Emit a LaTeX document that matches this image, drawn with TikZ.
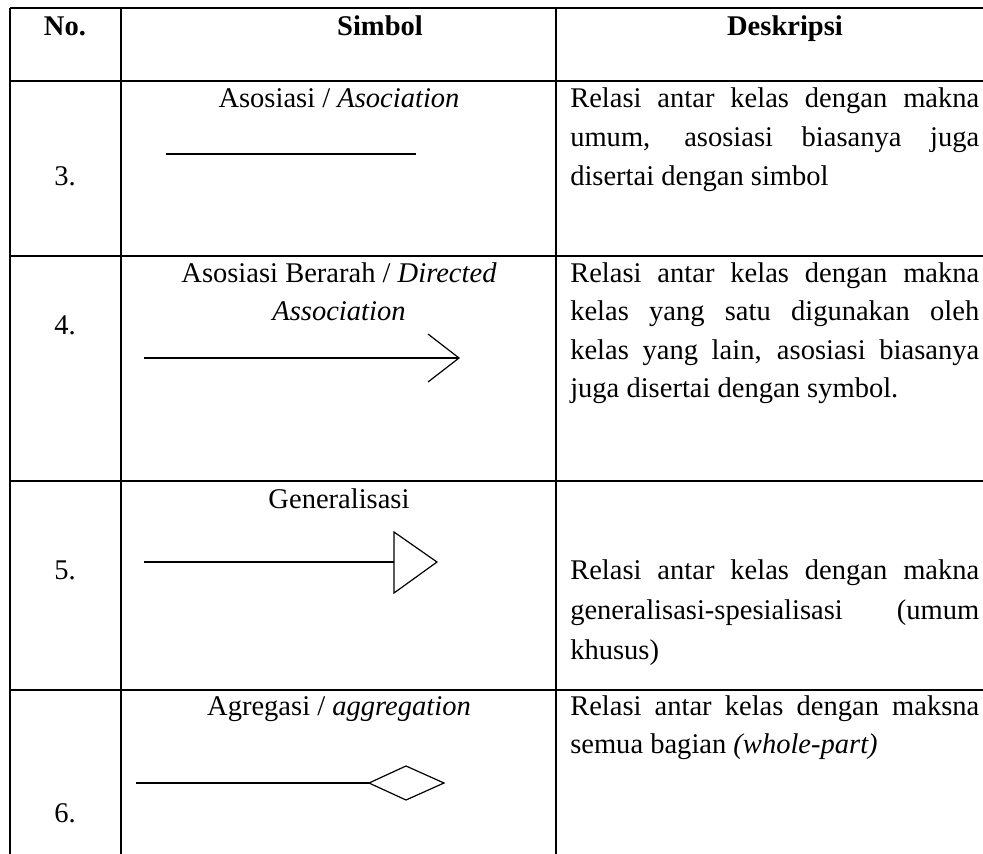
\documentclass[tikz,border=0pt]{standalone}
\usepackage{fontspec}
\setmainfont{Liberation Serif}
\newcommand{\jline}[1]{\makebox[306.75pt][s]{#1}}
\begin{document}
\begin{tikzpicture}[x=0.75pt,y=-0.75pt,
  font=\fontsize{21.4}{25}\selectfont,
  grid/.style={line width=2pt},
  sym/.style={line width=1.3pt},
  head/.style={line width=0.9pt, line join=miter},
  ctext/.style={inner sep=0pt, anchor=base},
  dtext/.style={inner sep=0pt, anchor=base west}]
\useasboundingbox (0,0) rectangle (983,854);
% table grid
\draw[grid] (10,8) -- (983,8);
\draw[grid] (10,81) -- (983,81);
\draw[grid] (10,256) -- (983,256);
\draw[grid] (10,481) -- (983,481);
\draw[grid] (10,690) -- (983,690);
\draw[grid] (10,8) -- (10,854);
\draw[grid] (121,8) -- (121,854);
\draw[grid] (556,8) -- (556,854);
% header
\node[ctext] (hno) at (65,35) {\textbf{No.}};
\node[ctext] (hsim) at (380,35) {\textbf{Simbol}};
\node[ctext] (hdes) at (785,35) {\textbf{Deskripsi}};
% numbers
\node[ctext] (n3) at (65,185) {3.};
\node[ctext] (n4) at (65,334) {4.};
\node[ctext] (n5) at (65,579) {5.};
\node[ctext] (n6) at (65,822) {6.};
% symbol labels
\node[ctext] (l3) at (339,107) {Asosiasi / \textit{Asociation}};
\node[ctext] (l4a) at (339,282) {Asosiasi Berarah / \textit{Directed}};
\node[ctext] (l4b) at (339,320.5) {\textit{Association}};
\node[ctext] (l5) at (339,508) {Generalisasi};
\node[ctext] (l6) at (339,715) {Agregasi / \textit{aggregation}};
% descriptions
\node[dtext] (d3a) at (570,107) {\jline{Relasi antar kelas dengan makna}};
\node[dtext] (d3b) at (570,146) {\jline{umum, asosiasi biasanya juga}};
\node[dtext] (d3c) at (570,185) {disertai dengan simbol};
\node[dtext] (d4a) at (570,282) {\jline{Relasi antar kelas dengan makna}};
\node[dtext] (d4b) at (570,320.5) {\jline{kelas yang satu digunakan oleh}};
\node[dtext] (d4c) at (570,359) {\jline{kelas yang lain, asosiasi biasanya}};
\node[dtext] (d4d) at (570,397.5) {juga disertai dengan symbol.};
\node[dtext] (d5a) at (570,579) {\jline{Relasi antar kelas dengan makna}};
\node[dtext] (d5b) at (570,619) {\jline{generalisasi-spesialisasi (umum}};
\node[dtext] (d5c) at (570,659) {khusus)};
\node[dtext] (d6a) at (570,715) {\jline{Relasi antar kelas dengan maksna}};
\node[dtext] (d6b) at (570,753) {semua bagian \textit{(whole-part)}};
% row 3: association
\coordinate (a3s) at (166,154);
\coordinate (a3e) at (416,154);
\draw[sym] (a3s) -- (a3e);
% row 4: directed association
\coordinate (a4s) at (144,358);
\coordinate (a4e) at (459,358);
\coordinate (a4u) at (428,334);
\coordinate (a4d) at (428,382);
\draw[sym] (a4s) -- (a4e);
\draw[head] (a4u) -- (a4e) -- (a4d);
% row 5: generalisation
\coordinate (a5s) at (144,562);
\coordinate (a5b) at (394,562);
\coordinate (a5u) at (394,532);
\coordinate (a5t) at (437,562);
\coordinate (a5d) at (394,593);
\draw[sym] (a5s) -- (a5b);
\draw[head] (a5u) -- (a5t) -- (a5d) -- cycle;
% row 6: aggregation
\coordinate (a6s) at (136,783);
\coordinate (a6l) at (369,783);
\coordinate (a6u) at (406,766);
\coordinate (a6r) at (444,783);
\coordinate (a6d) at (406,800);
\draw[sym] (a6s) -- (a6l);
\draw[head] (a6l) -- (a6u) -- (a6r) -- (a6d) -- cycle;
\end{tikzpicture}
\end{document}
